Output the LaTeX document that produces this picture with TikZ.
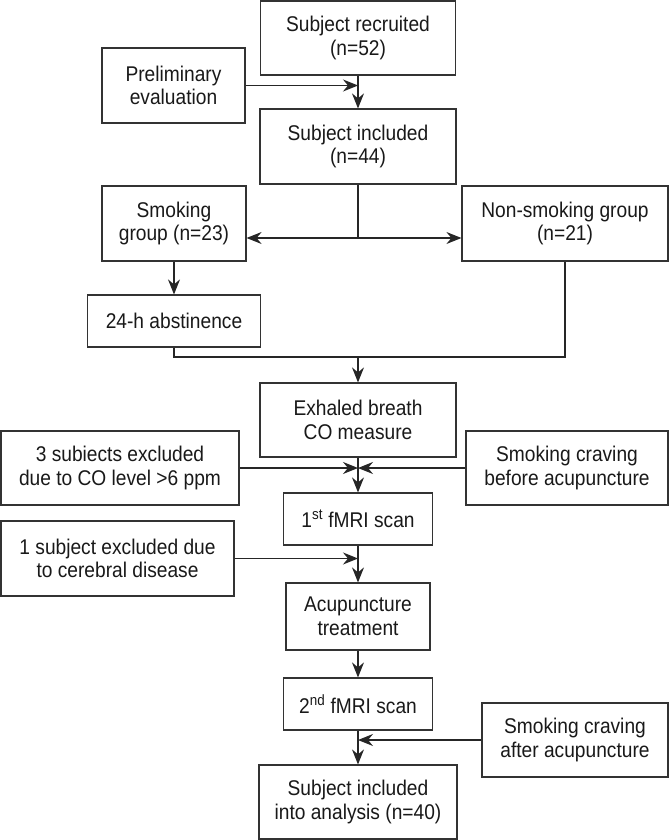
\documentclass[tikz,border=0pt]{standalone}
\usepackage{fontspec}
\setmainfont[FakeStretch=0.9]{Liberation Sans}
\usetikzlibrary{arrows.meta}
\begin{document}
\begin{tikzpicture}[x=1pt,y=-1pt,
  box/.style={draw=black!80, line width=1.2pt, rectangle, align=center, inner sep=0pt,
    font=\fontsize{21.3}{23.5}\selectfont, text=black!90},
  conn/.style={draw=black!85, line width=1.2pt},
  arr/.style={conn, -{Stealth[length=15pt,width=12pt,inset=5pt]}}]
\useasboundingbox (0,0) rectangle (669,840);
\fill[white] (0,0) rectangle (669,840);
\node[box, minimum width=195pt, minimum height=74pt] (rec) at (358,38) {Subject recruited\\(n=52)};
\node[box, minimum width=143pt, minimum height=75pt] (pre) at (173.5,85.5) {Preliminary\\evaluation};
\node[box, minimum width=196pt, minimum height=75pt] (inc) at (358,146.5) {Subject included\\(n=44)};
\node[box, minimum width=144pt, minimum height=75pt] (smk) at (174,223.5) {Smoking\\group (n=23)};
\node[box, minimum width=206pt, minimum height=75pt] (non) at (565,223.5) {Non-smoking group\\(n=21)};
\node[box, minimum width=173pt, minimum height=52pt] (abs) at (174,321) {24-h abstinence};
\node[box, minimum width=196pt, minimum height=74pt] (exh) at (358,420) {Exhaled breath\\CO measure};
\node[box, minimum width=238pt, minimum height=74pt] (ex3) at (120,468) {3 subiects excluded\\due to CO level >6 ppm};
\node[box, minimum width=202pt, minimum height=74pt] (cb) at (567,468) {Smoking craving\\before acupuncture};
\node[box, minimum width=149pt, minimum height=52pt] (f1) at (358,519) {1\textsuperscript{st} fMRI scan};
\node[box, minimum width=233pt, minimum height=75pt] (ex1) at (117.5,558.5) {1 subject excluded due\\to cerebral disease};
\node[box, minimum width=144pt, minimum height=67pt] (acu) at (358,616.5) {Acupuncture\\treatment};
\node[box, minimum width=149pt, minimum height=52pt] (f2) at (358,704) {2\textsuperscript{nd} fMRI scan};
\node[box, minimum width=186pt, minimum height=74pt] (ca) at (575,740) {Smoking craving\\after acupuncture};
\node[box, minimum width=198pt, minimum height=74pt] (fin) at (358,802) {Subject included\\into analysis (n=40)};
\coordinate (jpre) at (358,85.5);
\coordinate (jb) at (358,238);
\coordinate (jm) at (358,357);
\coordinate (jex) at (358,468);
\coordinate (jex1) at (358,558.5);
\coordinate (jca) at (358,740);
\draw[arr] (rec.south) -- (inc.north);
\draw[arr] (pre.east) -- (jpre);
\draw[conn] (inc.south) -- (jb);
\draw[arr] (jb) -- (jb -| smk.east);
\draw[arr] (jb) -- (jb -| non.west);
\draw[arr] (smk.south) -- (abs.north);
\draw[conn] (abs.south) -- (abs.south |- jm) -- (jm -| non.south) -- (non.south);
\draw[arr] (jm) -- (exh.north);
\draw[arr] (ex3.east) -- (jex);
\draw[arr] (cb.west) -- (jex);
\draw[arr] (exh.south) -- (f1.north);
\draw[arr] (ex1.east) -- (jex1);
\draw[arr] (f1.south) -- (acu.north);
\draw[arr] (acu.south) -- (f2.north);
\draw[arr] (f2.south) -- (fin.north);
\draw[arr] (ca.west) -- (jca);
\end{tikzpicture}
\end{document}
